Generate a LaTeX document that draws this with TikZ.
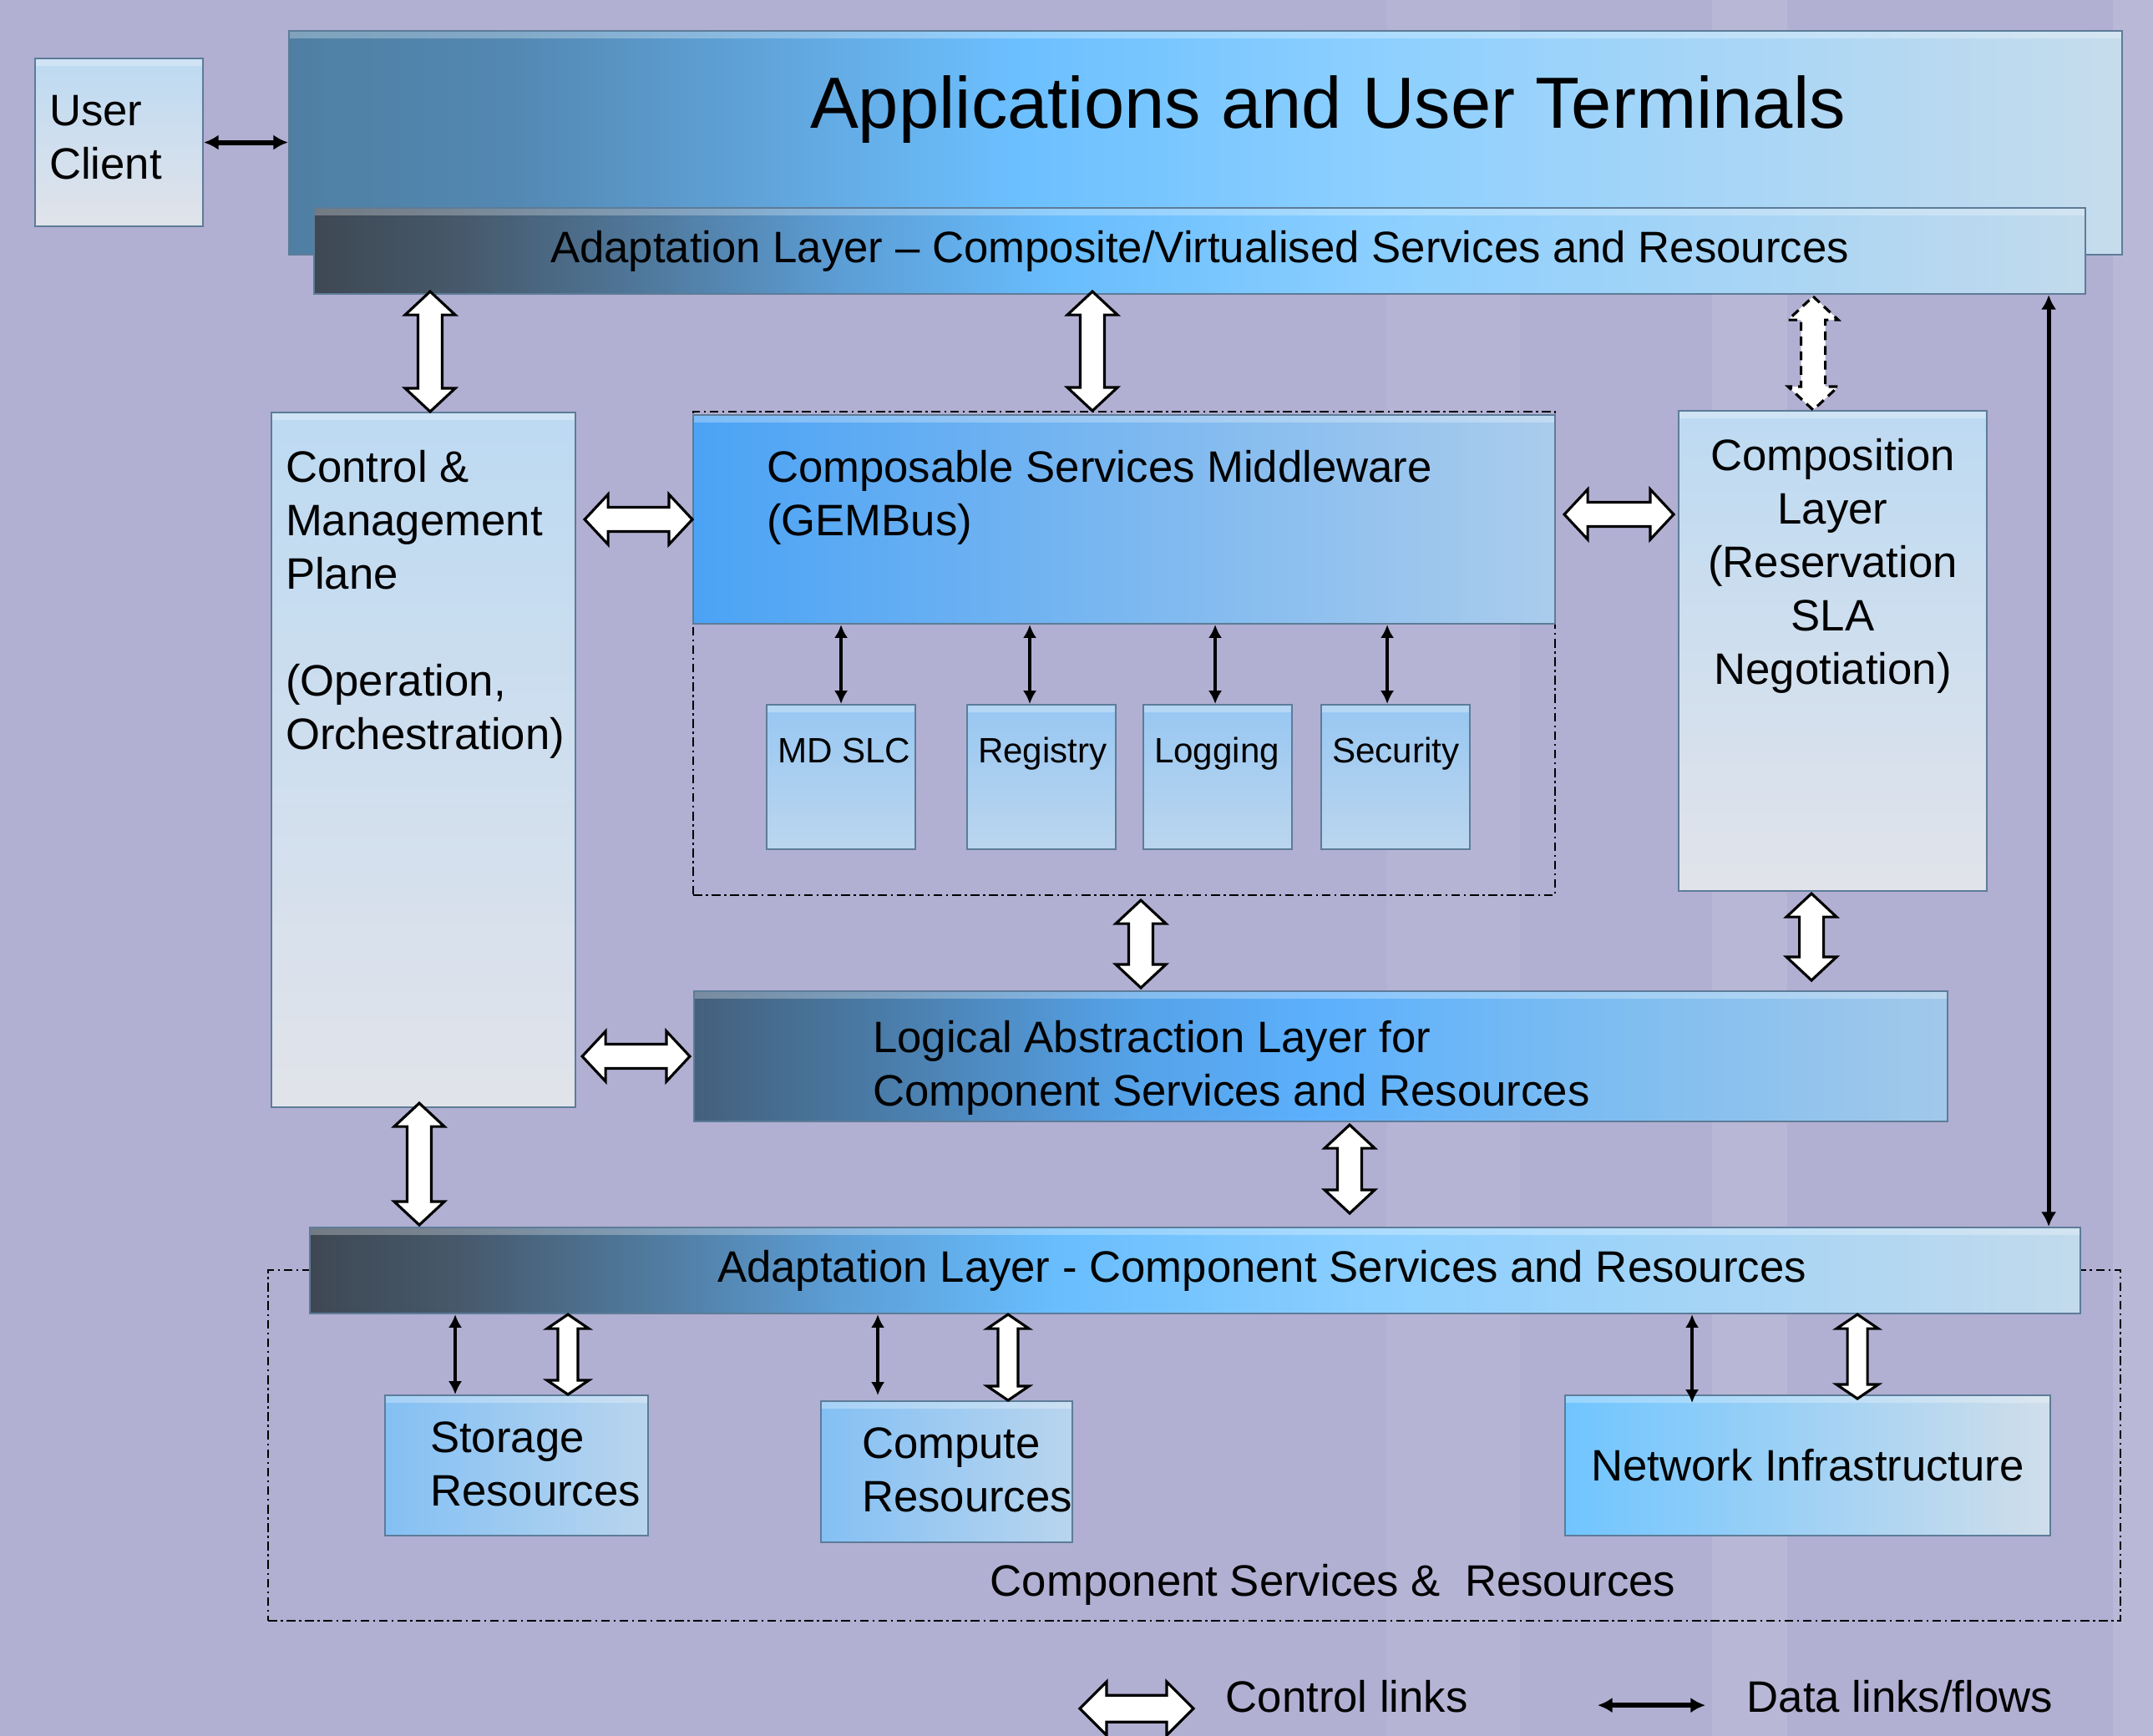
\documentclass[tikz,border=0pt]{standalone}
\usepackage{fontspec}
\setmainfont{Liberation Sans}
\usetikzlibrary{arrows.meta,calc}

% colours
\definecolor{bglav}{HTML}{B1AFD2}
\definecolor{edge}{HTML}{5D7C98}
\definecolor{paletop}{HTML}{BDDAF2}
\definecolor{palebot}{HTML}{E1E3EA}
\definecolor{unittop}{HTML}{98C7F2}
\definecolor{unitbot}{HTML}{BBD6EE}
\definecolor{gemleft}{HTML}{4BA3F5}
\definecolor{gemright}{HTML}{AACCEC}
\definecolor{resleft}{HTML}{84C0F4}
\definecolor{resright}{HTML}{B8D5EE}
\definecolor{netleft}{HTML}{70C5FF}
\definecolor{netright}{HTML}{D0DEEA}
\definecolor{app0}{HTML}{4F7FA3}
\definecolor{app1}{HTML}{5388B2}
\definecolor{app2}{HTML}{62A8E0}
\definecolor{app3}{HTML}{6CC0FF}
\definecolor{app4}{HTML}{8ED0FF}
\definecolor{app5}{HTML}{C6DCEC}
\definecolor{ad0}{HTML}{3E4853}
\definecolor{ad1}{HTML}{46586A}
\definecolor{ad2}{HTML}{4F7698}
\definecolor{ad3}{HTML}{5C9ED6}
\definecolor{ad4}{HTML}{68BDFD}
\definecolor{ad5}{HTML}{8BCFFF}
\definecolor{ad6}{HTML}{C2DAEC}
\definecolor{lg0}{HTML}{44607C}
\definecolor{lg1}{HTML}{4A7CA8}
\definecolor{lg2}{HTML}{55A2E8}
\definecolor{lg3}{HTML}{5CB0FC}
\definecolor{lg4}{HTML}{80BEF0}
\definecolor{lg5}{HTML}{A2C8EA}

\pgfdeclarehorizontalshading{appshade}{100bp}{color(0bp)=(app0); color(25bp)=(app0); color(31bp)=(app1); color(39bp)=(app2); color(45bp)=(app3); color(55bp)=(app4); color(75bp)=(app5); color(100bp)=(app5)}
\pgfdeclarehorizontalshading{adshade}{100bp}{color(0bp)=(ad0); color(25bp)=(ad0); color(29bp)=(ad1); color(34bp)=(ad2); color(40bp)=(ad3); color(46bp)=(ad4); color(55bp)=(ad5); color(75bp)=(ad6); color(100bp)=(ad6)}
\pgfdeclarehorizontalshading{logicshade}{100bp}{color(0bp)=(lg0); color(25bp)=(lg0); color(32.5bp)=(lg1); color(42.5bp)=(lg2); color(50bp)=(lg3); color(62.5bp)=(lg4); color(75bp)=(lg5); color(100bp)=(lg5)}

\newcommand\bodyfont{\fontsize{15}{18.2}\selectfont}
\newcommand\titlefont{\fontsize{24.7}{29.6}\selectfont}
\newcommand\unitfont{\fontsize{12}{14.4}\selectfont}
\newcommand\boxtext[3]{\parbox[t][#2][t]{#1}{\strut#3}}
\newcommand\ahl{0.28cm}
\newcommand\ahw{0.30cm}
\newcommand\asw{0.145cm}

\tikzset{
  box/.style={draw=edge, line width=0.6pt, inner sep=0pt, anchor=north west, font=\bodyfont,
    path picture={\fill[white,opacity=0.28] (path picture bounding box.north west) rectangle ([yshift=-0.09cm]path picture bounding box.north east);}},
  palebox/.style={box, top color=paletop, bottom color=palebot},
  unitbox/.style={box, top color=unittop, bottom color=unitbot, inner xsep=0.13cm, inner ysep=0.336cm, font=\unitfont},
  resbox/.style={box, left color=resleft, right color=resright},
  areabox/.style={draw=black, line width=0.6pt, dash pattern=on 3pt off 1.3pt on 0.7pt off 1.3pt, anchor=north west, inner sep=0pt},
  caption/.style={inner sep=0pt, font=\bodyfont},
  ctrl/.style={draw=black, fill=white, line width=0.9pt, line join=miter,
    to path={
      -- ($(\tikztostart)!\ahl!(\tikztotarget)!\ahw!90:(\tikztotarget)$)
      -- ($(\tikztostart)!\ahl!(\tikztotarget)!\asw!90:(\tikztotarget)$)
      -- ($(\tikztotarget)!\ahl!(\tikztostart)!\asw!-90:(\tikztostart)$)
      -- ($(\tikztotarget)!\ahl!(\tikztostart)!\ahw!-90:(\tikztostart)$)
      -- (\tikztotarget)
      -- ($(\tikztotarget)!\ahl!(\tikztostart)!\ahw!90:(\tikztostart)$)
      -- ($(\tikztotarget)!\ahl!(\tikztostart)!\asw!90:(\tikztostart)$)
      -- ($(\tikztostart)!\ahl!(\tikztotarget)!\asw!-90:(\tikztotarget)$)
      -- ($(\tikztostart)!\ahl!(\tikztotarget)!\ahw!-90:(\tikztotarget)$)
      -- cycle}},
  bigctrl/.style={/utils/exec={\def\ahl{0.32cm}\def\ahw{0.32cm}\def\asw{0.16cm}}},
  smallctrl/.style={/utils/exec={\def\ahl{0.17cm}\def\ahw{0.25cm}\def\asw{0.12cm}}},
  data/.style={line width=1pt, {Latex[length=4.5pt,width=4.6pt]}-{Latex[length=4.5pt,width=4.6pt]}},
  bigdata/.style={line width=1.7pt, {Latex[length=5pt,width=5.2pt]}-{Latex[length=5pt,width=5.2pt]}},
}

\begin{document}
\begin{tikzpicture}[x=1cm,y=-1cm]
\useasboundingbox (0,0) rectangle (25.78,20.79);
\fill[bglav] (0,0) rectangle (25.78,20.79);
\fill[white,opacity=0.07] (16.6,0) rectangle (18.2,20.79);
\fill[white,opacity=0.10] (20.5,0) rectangle (21.4,20.79);
\fill[white,opacity=0.12] (25.3,0) rectangle (25.78,20.79);

% top layers
\node[box, shade, shading=appshade, inner xsep=0.1cm, inner ysep=0.44cm, font=\titlefont] (apps) at (3.45,0.36)
  {\boxtext{21.75cm}{1.80cm}{\hspace*{6.14cm}Applications and User Terminals}};
\node[palebox, inner xsep=0.17cm, inner ysep=0.36cm] (uc) at (0.41,0.69)
  {\boxtext{1.67cm}{1.29cm}{\raggedright User\\Client}};
\node[box, shade, shading=adshade, minimum width=21.21cm, minimum height=1.03cm] (adtop) at (3.75,2.48)
  {Adaptation Layer – Composite/Virtualised Services and Resources};

% middle
\node[palebox, inner xsep=0.17cm, inner ysep=0.39cm] (ctrl) at (3.24,4.93)
  {\boxtext{3.30cm}{7.54cm}{\raggedright Control \&\\Management\\Plane\\[\baselineskip](Operation,\\Orchestration)}};
\node[areabox, minimum width=10.32cm, minimum height=5.79cm] (gemarea) at (8.29,4.92) {};
\node[box, left color=gemleft, right color=gemright, inner xsep=0.88cm, inner ysep=0.36cm] (gem) at (8.29,4.96)
  {\boxtext{8.56cm}{1.78cm}{\raggedright Composable Services Middleware\\(GEMBus)}};
\foreach \n/\px/\t in {mdslc/9.17/MD SLC, registry/11.57/Registry, logging/13.68/Logging, security/15.81/Security}
  \node[unitbox] (\n) at (\px,8.43) {\boxtext{1.52cm}{1.06cm}{\mbox{\t}}};
\node[palebox, inner xsep=0.1cm, inner ysep=0.27cm] (comp) at (20.09,4.91)
  {\boxtext{3.49cm}{5.21cm}{\centering Composition\\Layer\\(Reservation\\SLA\\Negotiation)}};
\node[box, shade, shading=logicshade, inner xsep=2.14cm, inner ysep=0.29cm] (logic) at (8.30,11.86)
  {\boxtext{10.73cm}{0.98cm}{\raggedright Logical Abstraction Layer for\\Component Services and Resources}};

% bottom
\node[areabox, minimum width=22.18cm, minimum height=4.20cm] (comparea) at (3.20,15.20) {};
\node[box, shade, shading=adshade, minimum width=21.20cm, minimum height=1.03cm] (adbot) at (3.70,14.69)
  {\hspace*{1.6cm}Adaptation Layer - Component Services and Resources};
\node[resbox, inner xsep=0.54cm, inner ysep=0.24cm] (storage) at (4.60,16.70)
  {\boxtext{2.07cm}{1.20cm}{\raggedright Storage\\Resources}};
\node[resbox, inner xsep=0.49cm, inner ysep=0.232cm] (compute) at (9.82,16.77)
  {\boxtext{2.03cm}{1.226cm}{\raggedright Compute\\Resources}};
\node[box, left color=netleft, right color=netright, minimum width=5.81cm, minimum height=1.68cm] (network) at (18.73,16.70)
  {Network Infrastructure};
\node[caption, anchor=base] (complabel) at (15.96,19.11) {Component Services \&~ Resources};

% control links
\draw[ctrl] ($(ctrl.north |- adtop.south)+(0.08,-0.04)$) to ($(ctrl.north)+(0.08,0)$);
\draw[ctrl] ($(gemarea.north |- adtop.south)+(-0.38,-0.04)$) to ($(gemarea.north)+(-0.38,0)$);
\draw[ctrl, densely dashed] ($(comp.north |- adtop.south)+(-0.235,0.02)$) to ($(comp.north)+(-0.235,0)$);
\draw[ctrl] ($(ctrl.east |- gem.west)+(0.1,0)$) to (gem.west);
\draw[ctrl] ($(gem.east)+(0.1,-0.06)$) to ($(comp.west |- gem.east)+(-0.05,-0.06)$);
\draw[ctrl] ($(gemarea.south)+(0.2,0.05)$) to ($(gemarea.south |- logic.north)+(0.2,-0.03)$);
\draw[ctrl] ($(comp.south)+(-0.255,0.02)$) to ($(comp.south |- logic.north)+(-0.255,-0.12)$);
\draw[ctrl] ($(ctrl.east |- logic.west)+(0.07,0)$) to ($(logic.west)+(-0.04,0)$);
\draw[ctrl] ($(ctrl.south)+(-0.05,-0.06)$) to ($(ctrl.south |- adbot.north)+(-0.05,-0.02)$);
\draw[ctrl] ($(logic.south)+(0.345,0.03)$) to ($(logic.south |- adbot.north)+(0.345,-0.16)$);
\draw[ctrl, smallctrl] ($(storage.north |- adbot.south)+(0.615,0)$) to ($(storage.north)+(0.615,0)$);
\draw[ctrl, smallctrl] ($(compute.north |- adbot.south)+(0.735,0)$) to ($(compute.north)+(0.735,0)$);
\draw[ctrl, smallctrl] ($(network.north |- adbot.south)+(0.595,0)$) to ($(network.north)+(0.595,0.05)$);

% data links
\draw[bigdata] (uc.east) -- (uc.east -| apps.west);
\draw[bigdata, line width=1.4pt] ($(adtop.south east)+(-0.45,0)$) -- ($(adtop.south east |- adbot.north)+(-0.45,0)$);
\foreach \n/\dx in {mdslc/0, registry/-0.14, logging/-0.03, security/-0.10}
  \draw[data] ($(\n.north |- gem.south)+(\dx,0)$) -- ($(\n.north)+(\dx,0)$);
\draw[data, line width=1.2pt] ($(storage.north |- adbot.south)+(-0.735,0)$) -- ($(storage.north)+(-0.735,0)$);
\draw[data, line width=1.2pt] ($(compute.north |- adbot.south)+(-0.825,0)$) -- ($(compute.north)+(-0.825,-0.06)$);
\draw[data, line width=1.2pt] ($(network.north |- adbot.south)+(-1.385,0)$) -- ($(network.north)+(-1.385,0.1)$);

% legend
\node[caption, anchor=base west] (legctrl) at (14.67,20.50) {Control links};
\node[caption, anchor=base west] (legdata) at (20.91,20.50) {Data links/flows};
\draw[ctrl, bigctrl] ($(legctrl.west)+(-1.74,0.15)$) to ($(legctrl.west)+(-0.38,0.15)$);
\draw[bigdata] ($(legdata.west)+(-1.78,0.11)$) -- ($(legdata.west)+(-0.49,0.11)$);
\end{tikzpicture}
\end{document}
